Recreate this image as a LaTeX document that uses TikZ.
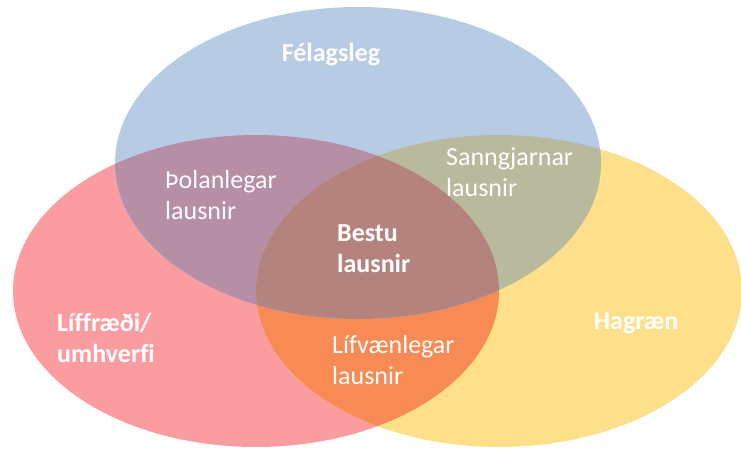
\documentclass[tikz,border=0pt]{standalone}
\usepackage{fontspec}
\setmainfont[Ligatures={NoCommon}]{Carlito}
\definecolor{cRed}{RGB}{251,157,160}
\definecolor{cYel}{RGB}{254,224,139}
\definecolor{cOra}{RGB}{248,138,85}
\definecolor{cBlu}{RGB}{184,203,228}
\definecolor{cPur}{RGB}{182,142,166}
\definecolor{cOli}{RGB}{184,185,157}
\definecolor{cBro}{RGB}{181,131,126}
\begin{document}
\begin{tikzpicture}[x=1pt,y=-1pt,
  lbl/.style={text=white, font=\fontsize{26}{31}\selectfont, inner sep=0pt, align=left},
  blbl/.style={text=white, font=\fontsize{26}{31}\selectfont\bfseries, inner sep=0pt, align=left},
  rad/.style={x radius=243pt, y radius=156pt}]
\useasboundingbox (0,0) rectangle (741,450);
\fill[cRed] (256,291) ellipse [rad];
\fill[cYel] (499,291) ellipse [rad];
\begin{scope}
  \clip (256,291) ellipse [rad];
  \fill[cOra] (499,291) ellipse [rad];
\end{scope}
\fill[cBlu] (358,163) ellipse [rad];
\begin{scope}
  \clip (358,163) ellipse [rad];
  \fill[cPur] (256,291) ellipse [rad];
  \fill[cOli] (499,291) ellipse [rad];
  \begin{scope}
    \clip (256,291) ellipse [rad];
    \fill[cBro] (499,291) ellipse [rad];
  \end{scope}
\end{scope}
\node[blbl] (fel) at (331,55) {Félagsleg};
\node[lbl, anchor=west] (pol) at (165,195) {Þolanlegar\\lausnir};
\node[lbl, anchor=west] (san) at (446,172) {Sanngjarnar\\lausnir};
\node[blbl, anchor=west] (bes) at (337,249) {Bestu\\lausnir};
\node[blbl, anchor=west] (lif) at (57,338) {Líffræði/\\umhverfi};
\node[lbl, anchor=west] (lfv) at (332,360) {Lífvænlegar\\lausnir};
\node[blbl] (hag) at (636,323) {Hagræn};
\end{tikzpicture}
\end{document}
